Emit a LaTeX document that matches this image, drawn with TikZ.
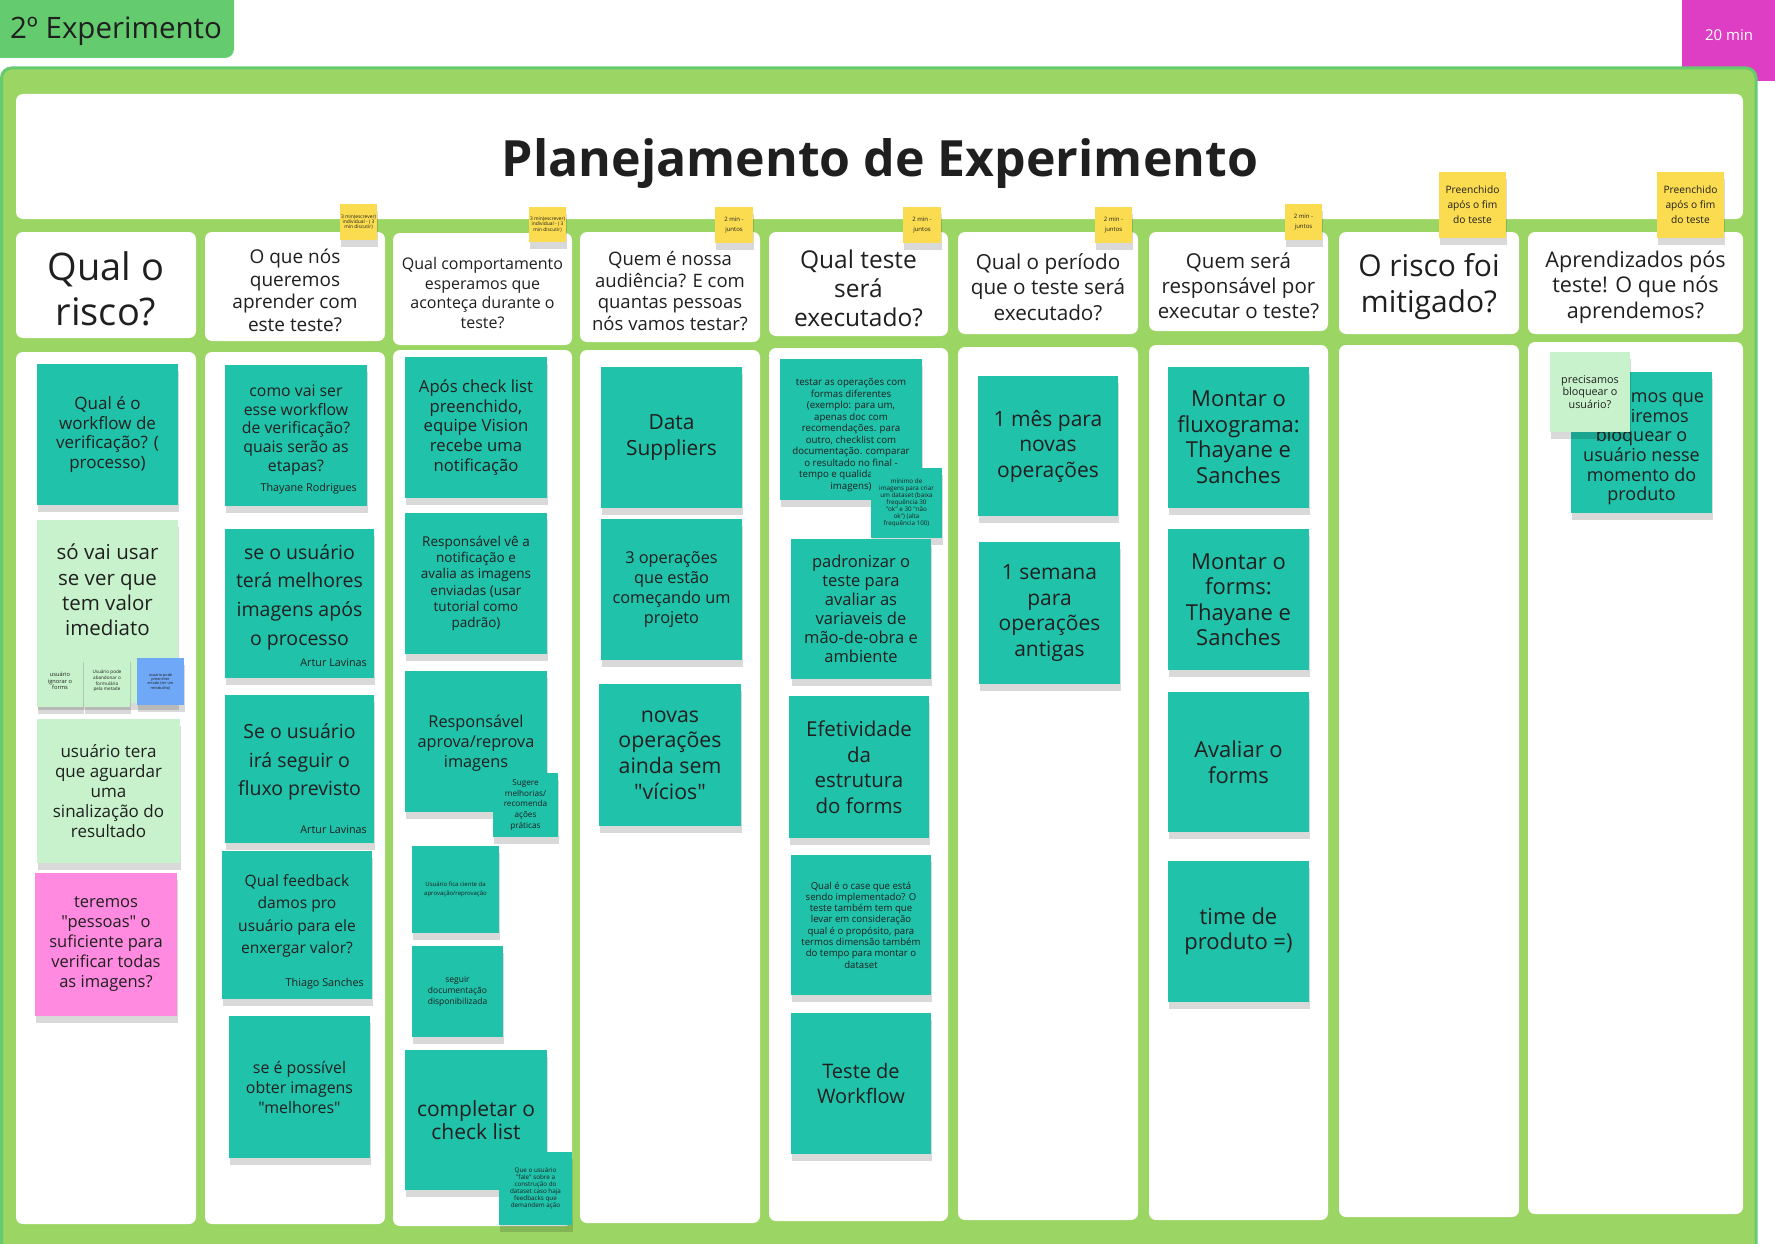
\documentclass[tikz,border=0pt]{standalone}
\usepackage{fontspec}
\setmainfont{Open Sans}[Ligatures=TeXOff]
\usetikzlibrary{shadows}
\definecolor{frameg}{HTML}{9BD563}
\definecolor{tabg}{HTML}{64CB6E}
\definecolor{teal1}{HTML}{20C2AA}
\definecolor{lgreen}{HTML}{C8F2CC}
\definecolor{pink1}{HTML}{FF8ADF}
\definecolor{blue1}{HTML}{6FA8F7}
\definecolor{yel}{HTML}{FBDC50}
\definecolor{mag}{HTML}{DE3EC3}
\definecolor{txt}{HTML}{1F1F1F}
\newcommand\fs[2]{\fontsize{#1}{#2}\selectfont}
\newcommand\bx[7]{\node[#2,minimum width={#5-#3},minimum height={#6-#4}] (#1) at ({(#3+#5)/2},{(#4+#6)/2}) {#7};}
\tikzset{
 base/.style={inner sep=0pt, outer sep=0pt, align=center, text=txt},
 shd/.style={drop shadow={shadow xshift=1pt, shadow yshift=-7pt, opacity=0.15, fill=black}},
 tealS/.style={base, fill=teal1, shd},
 lgS/.style={base, fill=lgreen, shd},
 pinkS/.style={base, fill=pink1, shd},
 blueS/.style={base, fill=blue1, shd},
 tagS/.style={base, fill=yel, shd},
 panel/.style={base, fill=white, rounded corners=7pt},
 lbl/.style={inner sep=0pt, align=center, text=txt},
 hdrt/.style={lbl, yshift=-4pt},
 auth/.style={inner sep=0pt, anchor=east, text=txt, font=\fs{10.8}{13}},
}
\begin{document}
\begin{tikzpicture}[x=1pt,y=-1pt]
\useasboundingbox (0,0) rectangle (1775,1244);
\fill[white] (0,0) rectangle (1775,1244);
% tab and timer
\bx{tab}{base, fill=tabg, rounded corners=9pt}{-12}{-12}{234}{58}{}
\node[lbl, font=\fs{29.5}{34}] (tabt) at (116,31) {2º Experimento};
\bx{timer}{base, fill=mag}{1682}{-12}{1790}{81}{}
\node[lbl, text=white, font=\fs{15}{18}] (timert) at (1729,35) {20 min};
% frame
\bx{frame}{base, fill=frameg, draw=tabg, line width=3pt, rounded corners=10pt}{1.5}{68}{1756}{1290}{}
% title panel
\bx{titlep}{panel}{16}{94}{1743}{219}{}
\node[lbl, font=\bfseries\fs{50}{56}] (title) at (880,164) {Planejamento de Experimento};
% headers
\bx{h1}{panel}{16}{232}{196}{338}{}
\node[hdrt, font=\fs{38}{45}] (h1t) at (h1) {Qual o\\risco?};
\bx{h2}{panel}{205}{232}{385}{341}{}
\node[hdrt, font=\fs{19}{22.6}] (h2t) at (h2) {O que nós\\queremos\\aprender com\\este teste?};
\bx{h3}{panel}{393}{233}{572}{345}{}
\node[hdrt, font=\fs{16}{19.8}] (h3t) at (h3) {Qual comportamento\\esperamos que\\aconteça durante o\\teste?};
\bx{h4}{panel}{580}{232}{760}{342}{}
\node[hdrt, font=\fs{18.5}{21.8}] (h4t) at (h4) {Quem é nossa\\audiência? E com\\quantas pessoas\\nós vamos testar?};
\bx{h5}{panel}{769}{232}{948}{336}{}
\node[hdrt, font=\fs{24.5}{29}] (h5t) at (h5) {Qual teste\\será\\executado?};
\bx{h6}{panel}{958}{232}{1138}{334}{}
\node[hdrt, font=\fs{20.7}{25.5}] (h6t) at (h6) {Qual o período\\que o teste será\\executado?};
\bx{h7}{panel}{1149}{232}{1328}{331}{}
\node[hdrt, font=\fs{20.5}{25}] (h7t) at (h7) {Quem será\\responsável por\\executar o teste?};
\bx{h8}{panel}{1339}{232}{1519}{334}{}
\node[hdrt, font=\fs{30}{36}] (h8t) at (h8) {O risco foi\\mitigado?};
\bx{h9}{panel}{1528}{232}{1743}{334}{}
\node[hdrt, font=\fs{21.6}{25.5}] (h9t) at (h9) {Aprendizados pós\\teste! O que nós\\aprendemos?};
% body panels
\bx{b1}{panel}{16}{352}{196}{1224}{}
\bx{b2}{panel}{205}{352}{385}{1224}{}
\bx{b3}{panel}{393}{350}{572}{1226}{}
\bx{b4}{panel}{580}{350}{760}{1223}{}
\bx{b5}{panel}{769}{348}{948}{1221}{}
\bx{b6}{panel}{958}{347}{1138}{1220}{}
\bx{b7}{panel}{1149}{345}{1328}{1220}{}
\bx{b8}{panel}{1339}{345}{1519}{1217}{}
\bx{b9}{panel}{1528}{342}{1743}{1214}{}
% yellow tags
\bx{y2}{tagS, font=\fs{4.9}{5.4}}{340}{204}{377}{240}{3 min(escrever)\\individual - ( 3\\min discutir)}
\bx{y3}{tagS, font=\fs{4.9}{5.4}}{529}{207}{566}{242}{3 min(escrever)\\individual - ( 3\\min discutir)}
\bx{y4}{tagS, font=\fs{6}{10}}{715}{207}{753}{243}{2 min -\\juntos}
\bx{y5}{tagS, font=\fs{6}{10}}{903}{207}{941}{243}{2 min -\\juntos}
\bx{y6}{tagS, font=\fs{6}{10}}{1095}{207}{1132}{243}{2 min -\\juntos}
\bx{y7}{tagS, font=\fs{6}{10}}{1285}{204}{1322}{240}{2 min -\\juntos}
\bx{y8}{tagS, font=\fs{10.2}{15}}{1439}{172}{1506}{238}{Preenchido\\após o fim\\do teste}
\bx{y9}{tagS, font=\fs{10.2}{15}}{1657}{172}{1724}{238}{Preenchido\\após o fim\\do teste}
% column 1
\bx{s11}{tealS, font=\fs{17}{19.6}}{37}{364}{178}{505}{Qual é o\\workflow de\\verificação? (\\processo)}
\bx{s12}{lgS}{37}{520}{178}{703}{}
\node[lbl, font=\fs{20.5}{25.3}] (s12t) at (107.5,590) {só vai usar\\se ver que\\tem valor\\imediato};
\bx{s12a}{lgS, font=\fs{5.7}{6.7}}{37}{655}{83}{707}{usuário\\ignorar o\\forms}
\bx{s12b}{lgS, font=\fs{4.6}{5.7}}{84}{655}{130}{707}{Usuário pode\\abandonar o\\formulário\\pela metade}
\bx{s12c}{blueS, font=\fs{3.8}{4.4}}{137}{658}{184}{705}{usuário pode\\preencher\\errado (ter um\\retrabalho)}
\bx{s13}{lgS, font=\fs{17}{19.8}}{37}{719}{180}{863}{usuário tera\\que aguardar\\uma\\sinalização do\\resultado}
\bx{s14}{pinkS, font=\fs{16.5}{20}}{35}{873}{177}{1016}{teremos\\"pessoas" o\\suficiente para\\verificar todas\\as imagens?}
% column 2
\bx{s21}{tealS}{225}{365}{367}{506}{}
\node[lbl, font=\fs{15.8}{18.6}] (s21t) at (296,430) {como vai ser\\esse workflow\\de verificação?\\quais serão as\\etapas?};
\node[auth] (s21a) at (357,489) {Thayane Rodrigues};
\bx{s22}{tealS}{225}{529}{374}{678}{}
\node[lbl, font=\fs{19.5}{28.7}] (s22t) at (299.5,597) {se o usuário\\terá melhores\\imagens após\\o processo};
\node[auth] (s22a) at (367,663) {Artur Lavinas};
\bx{s23}{tealS}{225}{695}{374}{843}{}
\node[lbl, font=\fs{19.5}{28.7}] (s23t) at (299.5,762) {Se o usuário\\irá seguir o\\fluxo previsto};
\node[auth] (s23a) at (367,830) {Artur Lavinas};
\bx{s24}{tealS}{222}{851}{372}{999}{}
\node[lbl, font=\fs{15.6}{22.4}] (s24t) at (297,916) {Qual feedback\\damos pro\\usuário para ele\\enxergar valor?};
\node[auth] (s24a) at (364,984) {Thiago Sanches};
\bx{s25}{tealS, font=\fs{15.9}{20}}{229}{1016}{370}{1158}{se é possível\\obter imagens\\"melhores"}
% column 3
\bx{s31}{tealS, font=\fs{16.7}{19.7}}{405}{357}{547}{498}{Após check list\\preenchido,\\equipe Vision\\recebe uma\\notificação}
\bx{s32}{tealS, font=\fs{13.5}{16.2}}{405}{513}{547}{654}{Responsável vê a\\notificação e\\avalia as imagens\\enviadas (usar\\tutorial como\\padrão)}
\bx{s33}{tealS}{405}{671}{547}{812}{}
\node[lbl, font=\fs{16.3}{20}] (s33t) at (476,743) {Responsável\\aprova/reprova\\imagens};
\bx{s34}{tealS, font=\fs{8.2}{10.8}}{493}{773}{558}{837}{Sugere\\melhorias/\\recomenda\\ações\\práticas}
\bx{s35}{tealS, font=\fs{6}{8.3}}{412}{846}{499}{933}{Usuário fica ciente da\\aprovação/reprovação}
\bx{s36}{tealS, font=\fs{8.5}{10.8}}{412}{946}{503}{1037}{seguir\\documentação\\disponibilizada}
\bx{s37}{tealS, font=\fs{21}{23.3}}{405}{1050}{547}{1190}{completar o\\check list}
\bx{s38}{tealS, font=\fs{6.3}{7.1}}{499}{1152}{572}{1225}{Que o usuário\\"fale" sobre a\\construção do\\dataset caso haja\\feedbacks que\\demandem ação}
% column 4
\bx{s41}{tealS, font=\fs{20.9}{26}}{601}{367}{742}{508}{Data\\Suppliers}
\bx{s42}{tealS, font=\fs{16.3}{19.8}}{601}{519}{742}{660}{3 operações\\que estão\\começando um\\projeto}
\bx{s43}{tealS, font=\fs{21.3}{25.6}}{599}{684}{741}{826}{novas\\operações\\ainda sem\\"vícios"}
% column 5
\bx{s51}{tealS}{780}{359}{922}{500}{}
\node[lbl, font=\fs{9.7}{11.5}] (s51t) at (851,435) {testar as operações com\\formas diferentes\\(exemplo: para um,\\apenas doc com\\recomendações. para\\outro, checklist com\\documentação. comparar\\o resultado no final -\\tempo e qualidade das\\imagens)};
\bx{s52}{tealS, font=\fs{6.3}{6.9}}{871}{468}{942}{538}{mínimo de\\imagens para criar\\um dataset (baixa\\frequência 30\\"ok" e 30 "não\\ok") (alta\\frequência 100)}
\bx{s53}{tealS, font=\fs{16.5}{19}}{791}{539}{931}{679}{padronizar o\\teste para\\avaliar as\\variaveis de\\mão-de-obra e\\ambiente}
\bx{s54}{tealS, font=\fs{20.5}{25.5}}{789}{696}{929}{838}{Efetividade\\da\\estrutura\\do forms}
\bx{s55}{tealS, font=\fs{9.6}{11.3}}{791}{855}{931}{995}{Qual é o case que está\\sendo implementado? O\\teste também tem que\\levar em consideração\\qual é o propósito, para\\termos dimensão também\\do tempo para montar o\\dataset}
\bx{s56}{tealS, font=\fs{20}{25}}{791}{1013}{931}{1154}{Teste de\\Workflow}
% column 6
\bx{s61}{tealS, font=\fs{21}{25.5}}{978}{376}{1118}{516}{1 mês para\\novas\\operações}
\bx{s62}{tealS, font=\fs{21}{25.5}}{979}{542}{1120}{684}{1 semana\\para\\operações\\antigas}
% column 7
\bx{s71}{tealS, font=\fs{22}{25.5}}{1168}{367}{1309}{508}{Montar o\\fluxograma:\\Thayane e\\Sanches}
\bx{s72}{tealS, font=\fs{22}{25.5}}{1168}{529}{1309}{670}{Montar o\\forms:\\Thayane e\\Sanches}
\bx{s73}{tealS, font=\fs{22}{25.5}}{1168}{692}{1309}{832}{Avaliar o\\forms}
\bx{s74}{tealS, font=\fs{22}{25.5}}{1168}{861}{1309}{1002}{time de\\produto =)}
% column 9
\bx{s91}{tealS}{1571}{372}{1712}{513}{}
\node[lbl, font=\fs{18}{19.7}] (s91t) at (1641.5,447) {Decidimos que\\não iremos\\bloquear o\\usuário nesse\\momento do\\produto};
\bx{s92}{lgS, font=\fs{10.8}{12.8}}{1550}{352}{1630}{432}{precisamos\\bloquear o\\usuário?}
\end{tikzpicture}
\end{document}
